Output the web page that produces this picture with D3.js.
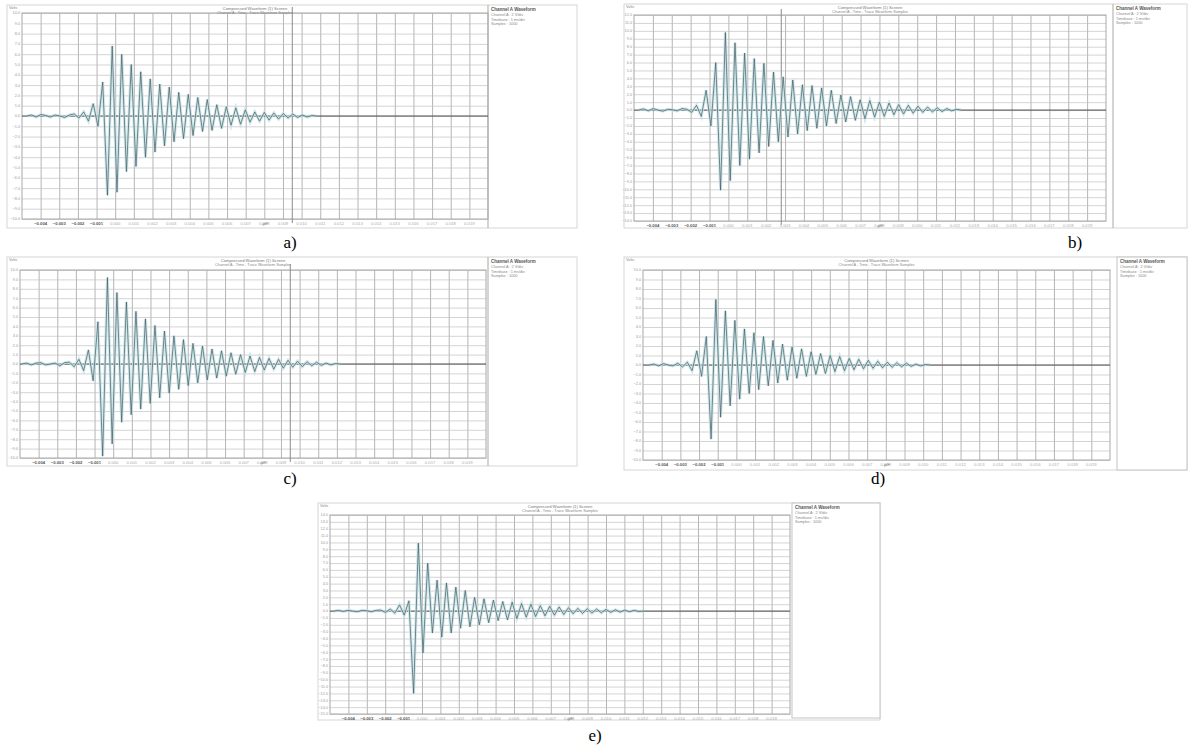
<!DOCTYPE html>
<html>
<head>
<meta charset="utf-8">
<script src="https://cdn.jsdelivr.net/npm/d3@7"></script>
<style>
body { margin: 0; background: #fff; }
svg { display: block; }
text { font-family: "Liberation Sans", Arial, sans-serif; }
.sub { font-family: "Liberation Serif", "Times New Roman", serif; }
</style>
</head>
<body>
<div id="chart"></div>
<script>
// time axis shared by the five screens (ms)
var xDomain = [-5, 20];
var xTickValues = [-4, -3, -2, -1, 0, 1, 2, 3, 4, 5, 6, 7, 8, 9, 10, 11, 12, 13, 14, 15, 16, 17, 18, 19];
var halfPeriod = 0.255;

// amplitude ranges of each screen
var yDomainA = [-10, 10];
var yDomainB = [-14, 12];
var yDomainC = [-10, 10];
var yDomainD = [-10, 10];
var yDomainE = [-15, 14];

// first sample time of each trace
var startA = -4.75, startB = -4.75, startC = -4.9, startD = -4.67, startE = -4.79;

var waveA = [0, 0.1, -0.1, 0.15, 0.05, -0.1, 0.1, 0, -0.15, 0.1, 0.2, -0.2, 0.4, -0.5, 1.2, -1.0, 3.3, -7.7, 6.8,
  -7.4, 6.0, -5.4, 5.0, -4.9, 4.3, -4.0, 3.6, -3.5, 3.1, -2.9, 2.8, -2.5, 2.3, -2.2, 2.1, -1.9, 1.8, -1.5, 1.6,
  -1.4, 1.1, -1.2, 0.9, -0.9, 0.8, -0.8, 0.6, -0.6, 0.4, -0.5, 0.35, -0.4, 0.3, -0.3, 0.25, -0.2, 0.2, -0.15, 0.1, -0.1, 0.05, 0];
var waveB = [0, 0.15, -0.1, 0.2, 0, -0.15, 0.1, 0.05, -0.1, 0.2, 0.1, -0.3, 0.6, -0.8, 2.5, -2.0, 6.0, -10.1, 9.8,
  -8.9, 8.5, -7.0, 7.2, -6.2, 6.5, -5.4, 5.9, -4.6, 4.8, -4.0, 4.2, -3.4, 3.8, -3.0, 3.2, -2.6, 3.1, -2.3, 2.8,
  -2.0, 2.5, -1.7, 1.9, -1.5, 1.7, -1.3, 1.3, -1.1, 1.2, -0.9, 1.0, -0.8, 0.9, -0.6, 0.7, -0.5, 0.6, -0.4, 0.5,
  -0.3, 0.4, -0.25, 0.3, -0.2, 0.2, -0.1, 0.1, 0];
var waveC = [0, 0.1, -0.1, 0.1, 0.15, -0.1, 0, 0.1, -0.2, 0.15, 0.2, -0.3, 0.5, -0.7, 1.5, -1.8, 4.5, -9.8, 9.2,
  -8.5, 7.6, -6.2, 6.6, -5.4, 5.6, -4.8, 4.8, -4.2, 4.1, -3.6, 3.5, -3.1, 3.0, -2.7, 2.6, -2.3, 2.2, -2.0, 1.9,
  -1.7, 1.6, -1.5, 1.4, -1.3, 1.2, -1.1, 1.0, -0.9, 0.85, -0.8, 0.7, -0.65, 0.6, -0.55, 0.5, -0.45, 0.4, -0.35,
  0.3, -0.3, 0.25, -0.2, 0.2, -0.15, 0.1, -0.1, 0.05, 0];
var waveD = [0, 0.1, -0.1, 0.15, 0, -0.1, 0.2, -0.2, 0.3, -0.6, 1.5, -1.2, 3.0, -7.8, 6.9,
  -5.5, 5.7, -4.3, 4.7, -3.6, 3.8, -3.0, 3.4, -2.6, 3.0, -2.2, 2.6, -1.9, 2.2, -1.6, 1.9, -1.4, 1.7, -1.2, 1.4,
  -1.0, 1.2, -0.9, 1.0, -0.7, 0.9, -0.6, 0.7, -0.5, 0.6, -0.4, 0.5, -0.35, 0.4, -0.3, 0.3, -0.25, 0.25, -0.2, 0.2,
  -0.15, 0.1, -0.1, 0.05, 0];
var waveE = [0, 0.1, -0.05, 0.1, 0, -0.1, 0.1, 0.05, -0.1, 0.1, 0.15, -0.2, 0.3, -0.3, 0.9, -0.6, 1.5, -12.0, 9.9,
  -6.1, 7.0, -3.2, 4.5, -3.8, 4.1, -3.2, 3.5, -2.5, 3.0, -2.3, 2.0, -2.0, 1.8, -1.7, 1.6, -1.4, 1.4, -1.3, 1.3,
  -1.1, 1.1, -0.9, 1.0, -0.8, 0.8, -0.7, 0.7, -0.6, 0.6, -0.5, 0.5, -0.4, 0.4, -0.35, 0.35, -0.3, 0.3, -0.25, 0.25,
  -0.2, 0.2, -0.15, 0.15, -0.1, 0.1, -0.05, 0];

// cursor position of each screen (null = none)
var cursorTimes = [9.5, 2.8, 9.5, null, null];

var subLabels = ["a)", "b)", "c)", "d)", "e)"];
var titleText = "Compressed Waveform (1) Screen";
var subtitleText = "Channel A - Time - Trace Waveform Samples";
var legendTitle = "Channel A Waveform";
var legendLines = ["Channel A : 2 V/div", "Timebase : 1 ms/div", "Samples : 1000"];

// layout of each screen: frame, plot area and legend box (x0, y0, x1, y1)
var panels = [
	{wave: waveA, start: startA, yDom: yDomainA, frame: [7, 5, 577, 228], plot: [22, 13, 488, 219], legend: [488, 5, 577, 228], boxed: false, label: [290, 248]},
	{wave: waveB, start: startB, yDom: yDomainB, frame: [624, 4, 1187, 228], plot: [634, 15, 1106, 221], legend: [1113, 4, 1187, 228], boxed: false, label: [1075, 248]},
	{wave: waveC, start: startC, yDom: yDomainC, frame: [7, 257, 577, 466], plot: [20, 270, 486, 458], legend: [488, 257, 577, 466], boxed: false, label: [290, 484]},
	{wave: waveD, start: startD, yDom: yDomainD, frame: [624, 257, 1187, 470], plot: [643, 270, 1110, 460], legend: [1117, 257, 1187, 470], boxed: true, label: [878, 484]},
	{wave: waveE, start: startE, yDom: yDomainE, frame: [318, 503, 880, 720], plot: [330, 515, 790, 714], legend: [792, 503, 880, 718], boxed: true, label: [595, 741]}
];

var svg = d3.select("#chart").append("svg")
	.attr("width", 1188)
	.attr("height", 753);

panels.forEach(function(p, k) {
	var g = svg.append("g");
	var x = d3.scaleLinear().domain(xDomain).range([p.plot[0], p.plot[2]]);
	var y = d3.scaleLinear().domain(p.yDom).range([p.plot[3], p.plot[1]]);
	var h = p.plot[3] - p.plot[1];
	var w = p.plot[2] - p.plot[0];

	// outer frame
	g.append("rect")
		.attr("x", p.frame[0]).attr("y", p.frame[1])
		.attr("width", p.frame[2] - p.frame[0]).attr("height", p.frame[3] - p.frame[1])
		.attr("fill", "none").attr("stroke", "#d6d6d6").attr("stroke-width", 1);

	// legend area
	if (p.boxed) {
		g.append("rect")
			.attr("x", p.legend[0]).attr("y", p.legend[1])
			.attr("width", p.legend[2] - p.legend[0]).attr("height", p.legend[3] - p.legend[1])
			.attr("fill", "#fff").attr("stroke", "#c4c4c4");
	} else {
		g.append("line")
			.attr("x1", p.legend[0]).attr("x2", p.legend[0])
			.attr("y1", p.legend[1]).attr("y2", p.legend[3])
			.attr("stroke", "#b8b8b8").attr("stroke-width", 1.2);
	}
	g.append("text")
		.attr("x", p.legend[0] + 3).attr("y", p.legend[1] + 6)
		.attr("font-size", 4.5).attr("font-weight", "bold").attr("fill", "#555")
		.text(legendTitle);
	legendLines.forEach(function(s, i) {
		g.append("text")
			.attr("x", p.legend[0] + 3).attr("y", p.legend[1] + 11 + i * 4.5)
			.attr("font-size", 3.8).attr("fill", "#888")
			.text(s);
	});

	// grid through the axes
	g.append("g")
		.attr("transform", "translate(0," + p.plot[3] + ")")
		.call(d3.axisBottom(x).tickValues(xTickValues).tickSize(-h).tickFormat(""))
		.call(function(s) {
			s.select(".domain").remove();
			s.selectAll("line").attr("stroke", "#adadad").attr("stroke-width", 0.9);
		});
	var yTicks = y.ticks(p.yDom[1] - p.yDom[0]);
	g.append("g")
		.attr("transform", "translate(" + p.plot[0] + ",0)")
		.call(d3.axisLeft(y).tickValues(yTicks).tickSize(-w).tickFormat(""))
		.call(function(s) {
			s.select(".domain").remove();
			s.selectAll("line").attr("stroke", "#c2c2c2").attr("stroke-width", 0.7);
		});

	// plot border
	g.append("rect")
		.attr("x", p.plot[0]).attr("y", p.plot[1]).attr("width", w).attr("height", h)
		.attr("fill", "none").attr("stroke", "#a8a8a8").attr("stroke-width", 1);

	// zero line
	g.append("line")
		.attr("x1", p.plot[0]).attr("x2", p.plot[2])
		.attr("y1", y(0)).attr("y2", y(0))
		.attr("stroke", "#4a4a4a").attr("stroke-width", 1);

	// cursor
	if (cursorTimes[k] !== null) {
		g.append("line")
			.attr("x1", x(cursorTimes[k])).attr("x2", x(cursorTimes[k]))
			.attr("y1", p.plot[1] - 6).attr("y2", p.plot[3] + 4)
			.attr("stroke", "#8a8a8a").attr("stroke-width", 1);
	}

	// trace
	var pts = p.wave.map(function(v, i) { return [p.start + i * halfPeriod, v]; });
	var line = d3.line()
		.x(function(d) { return x(d[0]); })
		.y(function(d) { return y(d[1]); });
	g.append("path").datum(pts)
		.attr("d", line)
		.attr("fill", "none").attr("stroke", "#c3e3e8").attr("stroke-width", 3).attr("opacity", 0.8);
	g.append("path").datum(pts)
		.attr("d", line)
		.attr("fill", "none").attr("stroke", "#46595f").attr("stroke-width", 0.7);

	// tick labels
	g.selectAll(".xl").data(xTickValues).enter().append("text")
		.attr("x", function(d) { return x(d); })
		.attr("y", p.plot[3] + 5.5)
		.attr("text-anchor", "middle")
		.attr("font-size", 4.2)
		.attr("font-weight", function(d) { return d < 0 ? "bold" : "normal"; })
		.attr("fill", function(d) { return d < 0 ? "#555" : "#aaa"; })
		.text(function(d) { return d3.format(".3f")(d / 1000); });
	g.selectAll(".yl").data(yTicks).enter().append("text")
		.attr("x", p.plot[0] - 2)
		.attr("y", function(d) { return y(d) + 1.4; })
		.attr("text-anchor", "end")
		.attr("font-size", 3.8)
		.attr("fill", "#9a9a9a")
		.text(function(d) { return d3.format(".1f")(d); });

	// titles
	var cx = (p.plot[0] + p.plot[2]) / 2;
	g.append("text")
		.attr("x", cx).attr("y", p.frame[1] + 4.5)
		.attr("text-anchor", "middle").attr("font-size", 4.2).attr("fill", "#777")
		.text(titleText);
	g.append("text")
		.attr("x", cx).attr("y", p.frame[1] + 8.5)
		.attr("text-anchor", "middle").attr("font-size", 3.8).attr("fill", "#888")
		.text(subtitleText);
	g.append("text")
		.attr("x", p.frame[0] + 2).attr("y", p.frame[1] + 4)
		.attr("font-size", 3.8).attr("fill", "#888")
		.text("Volts");
	g.append("text")
		.attr("transform", "translate(" + (cx + 8) + "," + (p.plot[3] + 7) + ") rotate(-25)")
		.attr("font-size", 4).attr("fill", "#666")
		.text("ms");

	// sub label
	svg.append("text")
		.attr("class", "sub")
		.attr("x", p.label[0]).attr("y", p.label[1])
		.attr("text-anchor", "middle")
		.attr("font-size", 17).attr("fill", "#000")
		.text(subLabels[k]);
});
</script>
</body>
</html>
